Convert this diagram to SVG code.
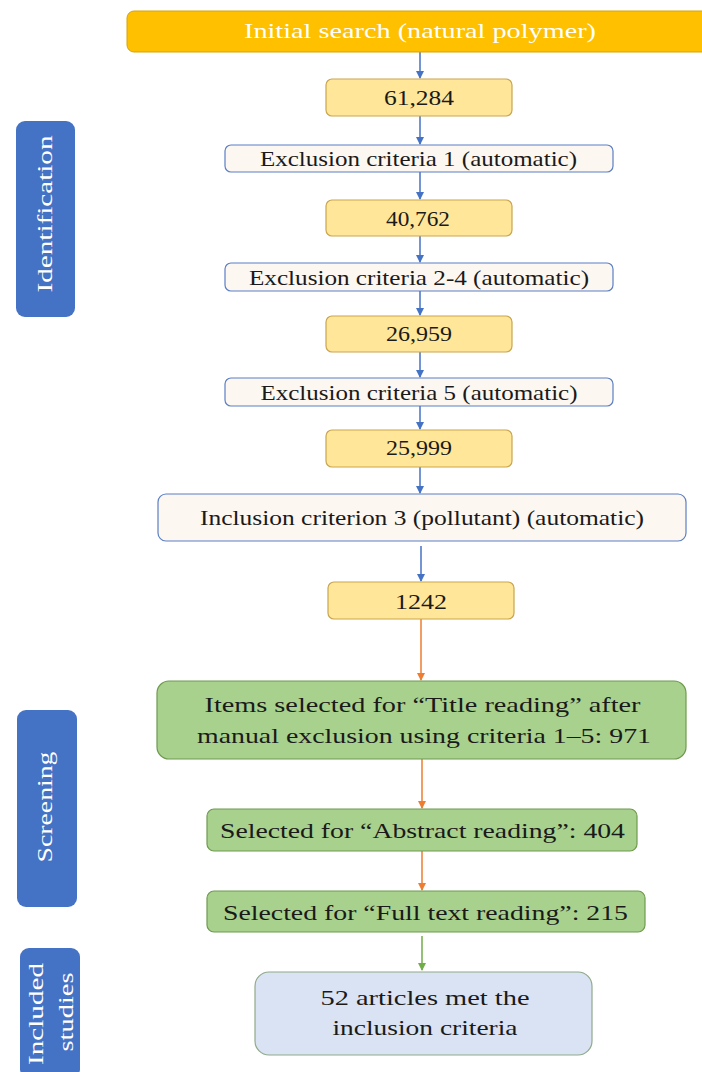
<svg xmlns="http://www.w3.org/2000/svg" width="702" height="1072" viewBox="0 0 702 1072">
<style>
.t{font-family:"Liberation Serif","Times New Roman",serif;font-size:21.5px;fill:#1a1a1a;text-anchor:middle}
.w{fill:#ffffff}
.num{fill:#FFE699;stroke:#C9A54E;stroke-width:1.2}
.exc{fill:#FDF7F2;stroke:#5B7FC4;stroke-width:1.2}
.grn{fill:#A9D18E;stroke:#6E9A4E;stroke-width:1.2}
.side{fill:#4472C4}
.cb{stroke:#4472C4;stroke-width:1.5;fill:none}
.co{stroke:#ED7D31;stroke-width:1.5;fill:none}
.cg{stroke:#70AD47;stroke-width:1.5;fill:none}
</style>
<defs>
<marker id="ab" markerWidth="8" markerHeight="8" refX="7" refY="4" orient="auto" markerUnits="userSpaceOnUse"><path d="M0,0 L8,4 L0,8 z" fill="#4472C4"/></marker>
<marker id="ao" markerWidth="8" markerHeight="8" refX="7" refY="4" orient="auto" markerUnits="userSpaceOnUse"><path d="M0,0 L8,4 L0,8 z" fill="#ED7D31"/></marker>
<marker id="ag" markerWidth="8" markerHeight="8" refX="7" refY="4" orient="auto" markerUnits="userSpaceOnUse"><path d="M0,0 L8,4 L0,8 z" fill="#70AD47"/></marker>
</defs>
<rect width="702" height="1072" fill="#ffffff"/>

<g id="connectors">
<line class="cb" x1="420" y1="52" x2="420" y2="78" marker-end="url(#ab)"/>
<line class="cb" x1="420" y1="116" x2="420" y2="144" marker-end="url(#ab)"/>
<line class="cb" x1="420" y1="172" x2="420" y2="199" marker-end="url(#ab)"/>
<line class="cb" x1="420" y1="236" x2="420" y2="262" marker-end="url(#ab)"/>
<line class="cb" x1="420" y1="291" x2="420" y2="315" marker-end="url(#ab)"/>
<line class="cb" x1="420" y1="352" x2="420" y2="377" marker-end="url(#ab)"/>
<line class="cb" x1="420" y1="406" x2="420" y2="429" marker-end="url(#ab)"/>
<line class="cb" x1="420" y1="467" x2="420" y2="493" marker-end="url(#ab)"/>
<line class="cb" x1="421" y1="546" x2="421" y2="581" marker-end="url(#ab)"/>
<line class="co" x1="421" y1="619" x2="421" y2="680" marker-end="url(#ao)"/>
<line class="co" x1="422" y1="759" x2="422" y2="808" marker-end="url(#ao)"/>
<line class="co" x1="422" y1="851" x2="422" y2="890" marker-end="url(#ao)"/>
<line class="cg" x1="422" y1="936" x2="422" y2="970" marker-end="url(#ag)"/>
</g>

<g id="side-identification">
<rect class="side" x="16" y="121" width="59" height="196" rx="9"/>
<text class="t w" transform="translate(52,214) rotate(-90)" font-size="25" textLength="157" lengthAdjust="spacingAndGlyphs">Identification</text>
</g>
<g id="side-screening">
<rect class="side" x="17" y="710" width="60" height="197" rx="9"/>
<text class="t w" transform="translate(52,807) rotate(-90)" font-size="25" textLength="111" lengthAdjust="spacingAndGlyphs">Screening</text>
</g>
<g id="side-included">
<rect class="side" x="20" y="948" width="60" height="130" rx="9"/>
<text class="t w" transform="translate(43,1014) rotate(-90)" font-size="25" textLength="102" lengthAdjust="spacingAndGlyphs">Included</text>
<text class="t w" transform="translate(73,1012) rotate(-90)" font-size="25" textLength="79" lengthAdjust="spacingAndGlyphs">studies</text>
</g>

<g id="n-initial">
<rect x="127" y="11" width="590" height="41" rx="7" fill="#FFC000" stroke="#D9A300" stroke-width="1"/>
<text class="t w" x="420" y="38" font-size="23" textLength="352" lengthAdjust="spacingAndGlyphs">Initial search (natural polymer)</text>
</g>
<g id="n-61284">
<rect class="num" x="326" y="79" width="186" height="37" rx="6"/>
<text class="t" x="419" y="105" textLength="70" lengthAdjust="spacingAndGlyphs">61,284</text>
</g>
<g id="n-exc1">
<rect class="exc" x="225" y="145" width="388" height="27" rx="6"/>
<text class="t" x="418.5" y="166" textLength="317" lengthAdjust="spacingAndGlyphs">Exclusion criteria 1 (automatic)</text>
</g>
<g id="n-40762">
<rect class="num" x="326" y="200" width="186" height="36" rx="6"/>
<text class="t" x="418" y="226" textLength="64" lengthAdjust="spacingAndGlyphs">40,762</text>
</g>
<g id="n-exc24">
<rect class="exc" x="225" y="263" width="388" height="28" rx="6"/>
<text class="t" x="419" y="285" textLength="340" lengthAdjust="spacingAndGlyphs">Exclusion criteria 2-4 (automatic)</text>
</g>
<g id="n-26959">
<rect class="num" x="326" y="316" width="186" height="36" rx="6"/>
<text class="t" x="419" y="341" textLength="66" lengthAdjust="spacingAndGlyphs">26,959</text>
</g>
<g id="n-exc5">
<rect class="exc" x="225" y="378" width="388" height="28" rx="6"/>
<text class="t" x="419" y="400" textLength="317" lengthAdjust="spacingAndGlyphs">Exclusion criteria 5 (automatic)</text>
</g>
<g id="n-25999">
<rect class="num" x="326" y="430" width="186" height="37" rx="6"/>
<text class="t" x="419" y="455" textLength="66" lengthAdjust="spacingAndGlyphs">25,999</text>
</g>
<g id="n-inc3">
<rect class="exc" x="158" y="494" width="528" height="47" rx="8"/>
<text class="t" x="422" y="525" textLength="444" lengthAdjust="spacingAndGlyphs">Inclusion criterion 3 (pollutant) (automatic)</text>
</g>
<g id="n-1242">
<rect class="num" x="328" y="582" width="186" height="37" rx="6"/>
<text class="t" x="421" y="609" textLength="52" lengthAdjust="spacingAndGlyphs">1242</text>
</g>
<g id="n-title">
<rect class="grn" x="157" y="681" width="529" height="78" rx="12"/>
<text class="t" x="422.5" y="712" font-size="22.5" textLength="436" lengthAdjust="spacingAndGlyphs">Items selected for “Title reading” after</text>
<text class="t" x="424" y="743" font-size="22.5" textLength="454" lengthAdjust="spacingAndGlyphs">manual exclusion using criteria 1–5: 971</text>
</g>
<g id="n-abstract">
<rect class="grn" x="207" y="809" width="430" height="42" rx="7"/>
<text class="t" x="422.5" y="838" font-size="22.5" textLength="405" lengthAdjust="spacingAndGlyphs">Selected for “Abstract reading”: 404</text>
</g>
<g id="n-full">
<rect class="grn" x="207" y="891" width="438" height="41" rx="7"/>
<text class="t" x="425.5" y="920" font-size="22.5" textLength="405" lengthAdjust="spacingAndGlyphs">Selected for “Full text reading”: 215</text>
</g>
<g id="n-included">
<rect x="255" y="972" width="337" height="83" rx="14" fill="#DAE3F3" stroke="#8FA98A" stroke-width="1.2"/>
<text class="t" x="425" y="1005" font-size="24" textLength="209" lengthAdjust="spacingAndGlyphs">52 articles met the</text>
<text class="t" x="425" y="1035" font-size="24" textLength="185" lengthAdjust="spacingAndGlyphs">inclusion criteria</text>
</g>
</svg>
